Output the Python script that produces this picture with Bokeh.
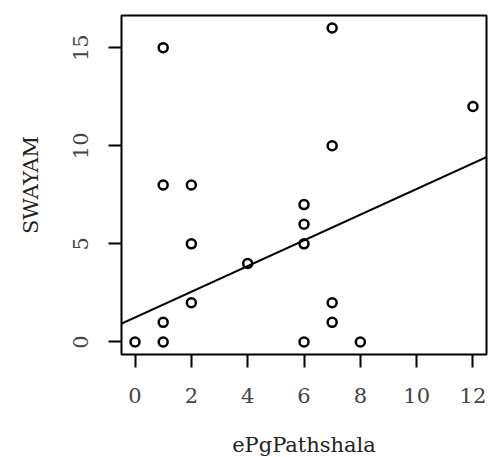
from bokeh.plotting import figure
from bokeh.models import Range1d, FixedTicker, Slope
from bokeh.embed import file_html
from bokeh.resources import INLINE

# Data
epg = [0, 1, 1, 1, 1, 2, 2, 2, 4, 6, 6, 6, 6, 7, 7, 7, 7, 8, 12]
swayam = [0, 0, 1, 8, 15, 2, 5, 8, 4, 0, 5, 6, 7, 1, 2, 10, 16, 0, 12]
fit_intercept = 1.25
fit_slope = 0.655
x_ticks = [0, 2, 4, 6, 8, 10, 12]
y_ticks = [0, 5, 10, 15]

FONT = "DejaVu Serif"

p = figure(
    frame_width=365, frame_height=339,
    min_border_left=121, min_border_top=15, min_border_right=2, min_border_bottom=100,
    x_range=Range1d(-0.48, 12.48), y_range=Range1d(-0.64, 16.64),
    output_backend="svg", toolbar_location=None,
    x_axis_label="ePgPathshala", y_axis_label="SWAYAM",
)
p.grid.visible = False
p.background_fill_color = "white"
p.border_fill_color = "white"
p.outline_line_color = "black"
p.outline_line_width = 2

p.xaxis.ticker = FixedTicker(ticks=x_ticks)
p.yaxis.ticker = FixedTicker(ticks=y_ticks)
for ax in (p.xaxis[0], p.yaxis[0]):
    ax.axis_line_color = None
    ax.major_tick_line_color = "black"
    ax.major_tick_line_width = 2
    ax.major_tick_out = 13
    ax.major_tick_in = 0
    ax.minor_tick_line_color = None
    ax.major_label_text_font = FONT
    ax.major_label_text_font_size = "21px"
    ax.major_label_text_color = "#444444"
    ax.axis_label_text_font = FONT
    ax.axis_label_text_font_size = "21px"
    ax.axis_label_text_font_style = "normal"
    ax.axis_label_text_color = "#222222"

p.xaxis.major_label_standoff = 20
p.xaxis.axis_label_standoff = 27
p.yaxis.major_label_orientation = "vertical"
p.yaxis.major_label_standoff = 20
p.yaxis.axis_label_standoff = 28

p.scatter(epg, swayam, marker="circle", size=9, fill_color=None,
          line_color="black", line_width=2.5)
p.add_layout(Slope(gradient=fit_slope, y_intercept=fit_intercept,
                   line_color="black", line_width=2))

open("out.html", "w").write(file_html(p, INLINE))
